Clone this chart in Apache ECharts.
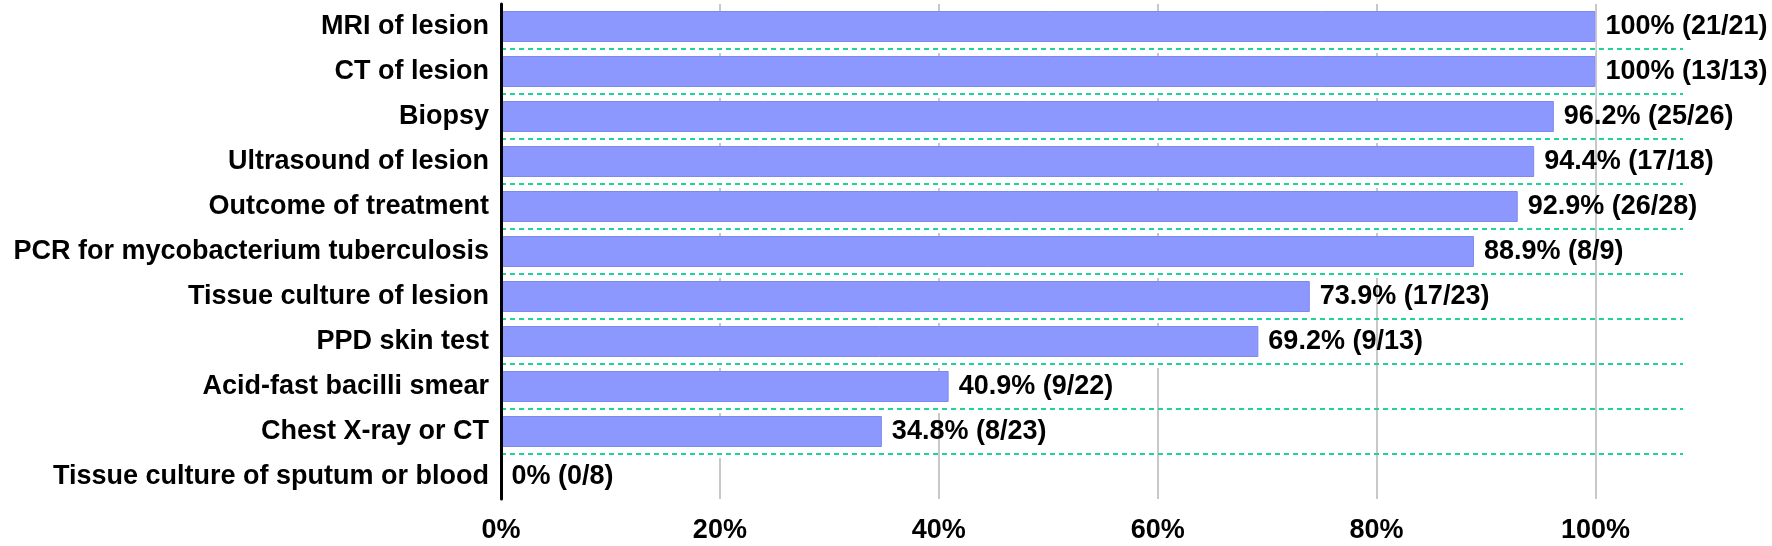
<!DOCTYPE html>
<html>
<head>
<meta charset="utf-8">
<script src="https://cdn.jsdelivr.net/npm/echarts@6/dist/echarts.min.js"></script>
<style>
html,body{margin:0;padding:0;background:#fff;}
#chart{width:1772px;height:546px;}
</style>
</head>
<body>
<div id="chart"></div>
<script>
var categories = [
  'MRI of lesion',
  'CT of lesion',
  'Biopsy',
  'Ultrasound of lesion',
  'Outcome of treatment',
  'PCR for mycobacterium tuberculosis',
  'Tissue culture of lesion',
  'PPD skin test',
  'Acid-fast bacilli smear',
  'Chest X-ray or CT',
  'Tissue culture of sputum or blood'
];
var percents = [100, 100, 96.2, 94.4, 92.9, 88.9, 73.9, 69.2, 40.9, 34.8, 0];
var positives = [21, 13, 25, 17, 26, 8, 17, 9, 9, 8, 0];
var totals = [21, 13, 26, 18, 28, 9, 23, 13, 22, 23, 8];
var xTicks = [0, 20, 40, 60, 80, 100];

var FONT = "'Liberation Sans', Arial, Helvetica, sans-serif";
var chart = echarts.init(document.getElementById('chart'), null, {renderer: 'canvas'});

var option = {
  animation: false,
  backgroundColor: '#ffffff',
  grid: {
    left: 501, right: 89, top: 4, bottom: 47,
    containLabel: false,
    outerBoundsMode: 'none'
  },
  xAxis: {
    type: 'value',
    min: xTicks[0],
    max: 108,
    interval: xTicks[1] - xTicks[0],
    axisLine: {show: false},
    axisTick: {show: false},
    axisLabel: {
      show: true,
      showMaxLabel: false,
      margin: 18,
      color: '#000',
      fontFamily: FONT,
      fontWeight: 'bold',
      fontSize: 27,
      formatter: function (v) { return xTicks.indexOf(v) >= 0 ? v + '%' : ''; }
    },
    splitLine: {
      show: true,
      showMaxLine: false,
      lineStyle: {color: '#c8c8c8', width: 2}
    }
  },
  yAxis: {
    type: 'category',
    data: categories,
    inverse: true,
    z: 10,
    axisLine: {show: true, lineStyle: {color: '#000', width: 3}},
    axisTick: {show: false},
    axisLabel: {
      margin: 12,
      color: '#000',
      fontFamily: FONT,
      fontWeight: 'bold',
      fontSize: 27
    },
    splitLine: {
      show: true,
      showMinLine: false,
      showMaxLine: false,
      lineStyle: {color: '#1fd39a', width: 2, type: [5, 4]}
    }
  },
  series: [
    {
      name: 'mask',
      type: 'bar',
      data: percents,
      barWidth: 42,
      barGap: '-100%',
      silent: true,
      itemStyle: {color: '#ffffff', borderWidth: 0},
      label: {show: false},
      emphasis: {disabled: true}
    },
    {
      name: 'Detection',
      type: 'bar',
      data: percents,
      barWidth: 31,
      barGap: '-100%',
      itemStyle: {color: '#8c98fd', borderColor: '#7d89f2', borderWidth: 1},
      label: {
        show: true,
        position: 'right',
        distance: 10,
        color: '#000',
        fontFamily: FONT,
        fontWeight: 'bold',
        fontSize: 27,
        formatter: function (p) {
          var i = p.dataIndex;
          return percents[i] + '% (' + positives[i] + '/' + totals[i] + ')';
        }
      }
    }
  ]
};
chart.setOption(option);
</script>
</body>
</html>
